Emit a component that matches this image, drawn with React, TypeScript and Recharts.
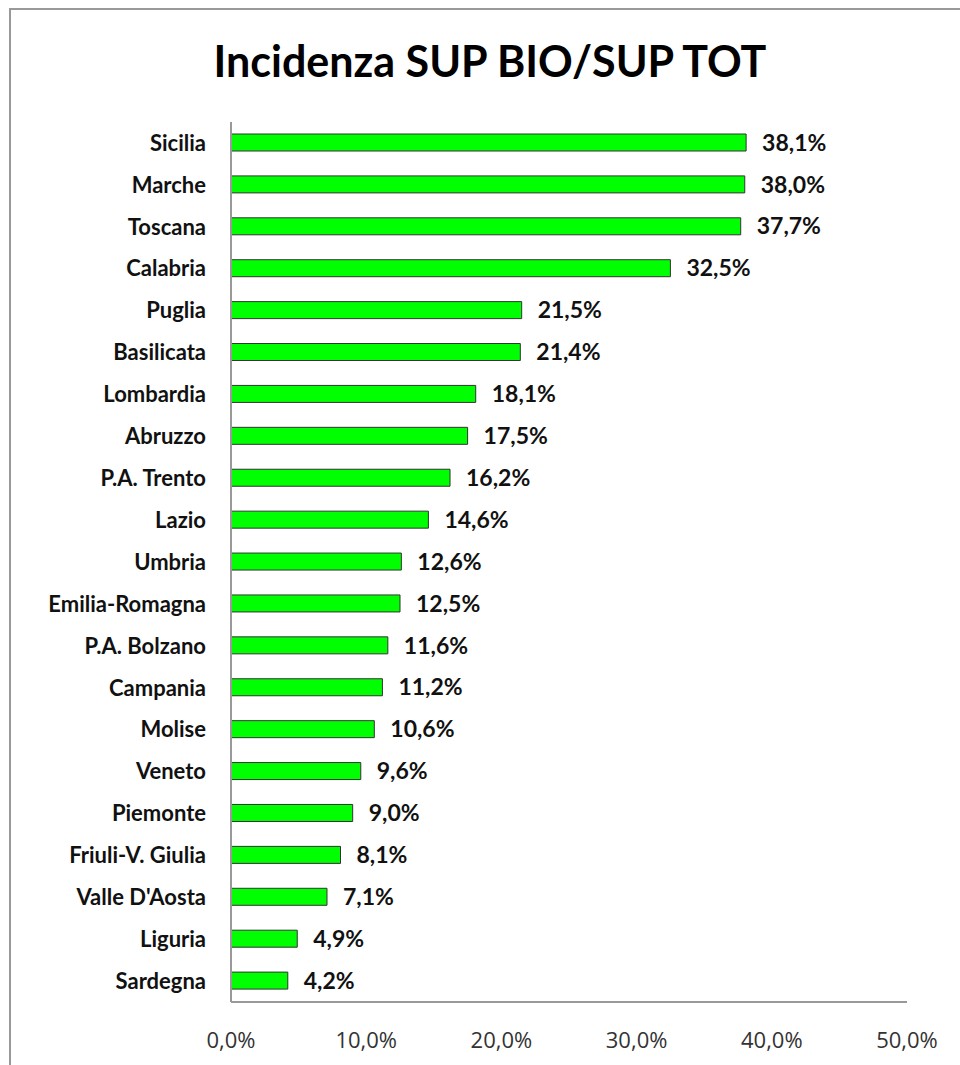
import { BarChart, Bar, XAxis, YAxis, LabelList } from 'recharts';

const regions = [
  'Sicilia', 'Marche', 'Toscana', 'Calabria', 'Puglia', 'Basilicata', 'Lombardia',
  'Abruzzo', 'P.A. Trento', 'Lazio', 'Umbria', 'Emilia-Romagna', 'P.A. Bolzano',
  'Campania', 'Molise', 'Veneto', 'Piemonte', 'Friuli-V. Giulia', "Valle D'Aosta",
  'Liguria', 'Sardegna',
];
const incidenza = [
  38.1, 38.0, 37.7, 32.5, 21.5, 21.4, 18.1, 17.5, 16.2, 14.6, 12.6, 12.5, 11.6,
  11.2, 10.6, 9.6, 9.0, 8.1, 7.1, 4.9, 4.2,
];
const xTicks = [0, 10, 20, 30, 40, 50];

const data = regions.map((name, i) => ({ name, value: incidenza[i] }));

const pct = (v: number) => v.toFixed(1).replace('.', ',') + '%';
const FONT = 'Lato, "Open Sans", sans-serif';

export default function App() {
  return (
    <div style={{ position: 'absolute', left: 0, top: 0, width: 960, height: 1065, background: '#fff', overflow: 'hidden', fontFamily: FONT }}>
      <div style={{ position: 'absolute', left: 9, top: 8, width: 1000, height: 1100, border: '2px solid #999' }} />
      <div style={{ position: 'absolute', left: 0, top: 35, width: 980, textAlign: 'center', fontSize: 43, fontWeight: 700, color: '#000' }}>
        Incidenza SUP BIO/SUP TOT
      </div>
      <div style={{ position: 'absolute', left: 0, top: 0 }}>
        <BarChart
          width={960}
          height={1065}
          data={data}
          layout="vertical"
          margin={{ top: 122, right: 53, bottom: 23, left: 8 }}
          barSize={17}
        >
          <XAxis
            type="number"
            domain={[0, 50]}
            ticks={xTicks}
            tickFormatter={pct}
            axisLine={{ stroke: '#999', strokeWidth: 2 }}
            tickLine={false}
            tickSize={0}
            tickMargin={30}
            height={40}
            tick={{ fontSize: 22, fill: '#333', fontFamily: '"Open Sans", sans-serif' }}
          />
          <YAxis
            type="category"
            dataKey="name"
            width={223}
            interval={0}
            axisLine={{ stroke: '#999', strokeWidth: 2 }}
            tickLine={false}
            tickSize={0}
            tickMargin={25}
            tick={{ fontSize: 22, fontWeight: 700, fill: '#111', fontFamily: FONT }}
          />
          <Bar dataKey="value" fill="#00ff00" stroke="#333" strokeWidth={1} isAnimationActive={false}>
            <LabelList
              dataKey="value"
              position="right"
              offset={16}
              formatter={(v: number) => pct(v)}
              style={{ fontSize: 23, fontWeight: 700, fill: '#111', fontFamily: FONT }}
            />
          </Bar>
        </BarChart>
      </div>
    </div>
  );
}
